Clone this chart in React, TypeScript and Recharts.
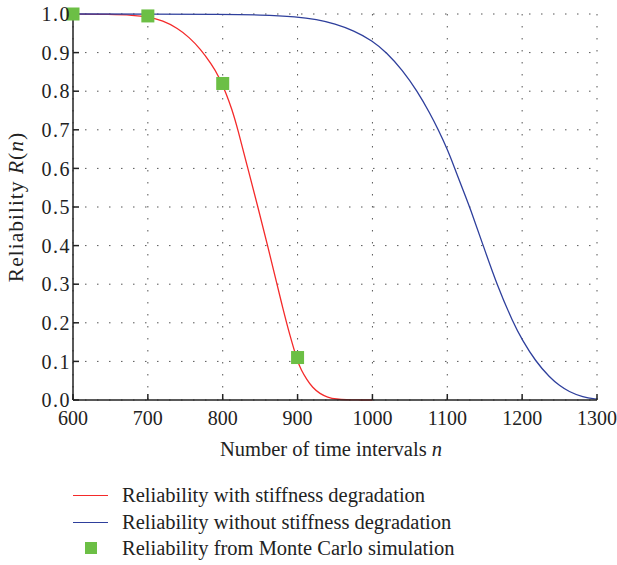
import React from 'react';
import { ComposedChart, Line, Scatter, XAxis, YAxis, CartesianGrid } from 'recharts';

// Reliability curves
const withDegradation = [
  { n: 600, r: 1.0 },
  { n: 650, r: 0.999 },
  { n: 680, r: 0.997 },
  { n: 700, r: 0.993 },
  { n: 720, r: 0.983 },
  { n: 740, r: 0.963 },
  { n: 755, r: 0.94 },
  { n: 770, r: 0.91 },
  { n: 785, r: 0.87 },
  { n: 795, r: 0.838 },
  { n: 805, r: 0.792 },
  { n: 812, r: 0.755 },
  { n: 820, r: 0.703 },
  { n: 833.5, r: 0.6 },
  { n: 847, r: 0.5 },
  { n: 860, r: 0.4 },
  { n: 872.5, r: 0.3 },
  { n: 880, r: 0.24 },
  { n: 890, r: 0.165 },
  { n: 900, r: 0.1 },
  { n: 905, r: 0.077 },
  { n: 912, r: 0.054 },
  { n: 920, r: 0.032 },
  { n: 930, r: 0.016 },
  { n: 940, r: 0.007 },
  { n: 952, r: 0.002 },
  { n: 965, r: 0.0005 },
  { n: 980, r: 0 },
  { n: 1000, r: 0 },
];

const withoutDegradation = [
  { n: 600, r: 1.0 },
  { n: 700, r: 1.0 },
  { n: 800, r: 0.999 },
  { n: 850, r: 0.998 },
  { n: 900, r: 0.993 },
  { n: 925, r: 0.986 },
  { n: 950, r: 0.975 },
  { n: 975, r: 0.957 },
  { n: 1000, r: 0.931 },
  { n: 1019, r: 0.9 },
  { n: 1040, r: 0.855 },
  { n: 1060, r: 0.8 },
  { n: 1077, r: 0.742 },
  { n: 1088, r: 0.7 },
  { n: 1100, r: 0.65 },
  { n: 1110, r: 0.6 },
  { n: 1120, r: 0.549 },
  { n: 1130, r: 0.5 },
  { n: 1148, r: 0.4 },
  { n: 1166, r: 0.3 },
  { n: 1188, r: 0.2 },
  { n: 1200, r: 0.156 },
  { n: 1218, r: 0.1 },
  { n: 1237, r: 0.058 },
  { n: 1250, r: 0.037 },
  { n: 1262, r: 0.022 },
  { n: 1281, r: 0.007 },
  { n: 1300, r: 0.002 },
];

const monteCarlo = [
  { n: 600, r: 1.0 },
  { n: 700, r: 0.995 },
  { n: 800, r: 0.82 },
  { n: 900, r: 0.11 },
];

const xTicks = [600, 700, 800, 900, 1000, 1100, 1200, 1300];
const yTicks = [0, 0.1, 0.2, 0.3, 0.4, 0.5, 0.6, 0.7, 0.8, 0.9, 1.0];

const legendItems = [
  { label: 'Reliability with stiffness degradation', kind: 'line', color: '#f42a2a' },
  { label: 'Reliability without stiffness degradation', kind: 'line', color: '#2e3f9c' },
  { label: 'Reliability from Monte Carlo simulation', kind: 'square', color: '#6cbf45' },
];

const FONT = '"Liberation Serif", "DejaVu Serif", serif';
const AXIS = '#222';
const xTickStyle = { fontSize: 20, fill: '#222', fontFamily: FONT };
const yTickStyle = { fontSize: 20, fill: '#222', fontFamily: FONT, letterSpacing: 1.5 };

function XLabel(props: any) {
  const vb = props.viewBox || {};
  return (
    <text x={vb.x + vb.width / 2 - 4} y={456} textAnchor="middle" fontSize={20.5} fontFamily={FONT} fill="#222">
      Number of time intervals <tspan fontStyle="italic">n</tspan>
    </text>
  );
}

function YLabel(props: any) {
  const vb = props.viewBox || {};
  const cy = vb.y + vb.height / 2;
  return (
    <text
      x={23}
      y={cy}
      transform={`rotate(-90 23 ${cy})`}
      textAnchor="middle"
      fontSize={21.5}
      letterSpacing={1}
      fontFamily={FONT}
      fill="#222"
    >
      Reliability <tspan fontStyle="italic">R</tspan>(<tspan fontStyle="italic">n</tspan>)
    </text>
  );
}

function Square(props: any) {
  const { cx, cy, fill } = props;
  if (cx == null || cy == null) return null;
  return <rect x={cx - 6.5} y={cy - 6.5} width={13} height={13} fill={fill} />;
}

export default function App() {
  return (
    <div style={{ position: 'absolute', left: 0, top: 0, width: 617, height: 565, background: '#fff' }}>
      <ComposedChart width={617} height={565} margin={{ top: 14, right: 20, left: 0, bottom: 105 }}>
        <CartesianGrid stroke="#555" strokeDasharray="1.5 10.5" strokeWidth={1} />
        <XAxis
          dataKey="n"
          type="number"
          domain={[600, 1300]}
          ticks={xTicks}
          height={60}
          stroke={AXIS}
          strokeWidth={1.5}
          tickSize={-6}
          tickMargin={17}
          tick={xTickStyle}
          label={<XLabel />}
        />
        <XAxis
          xAxisId="top"
          orientation="top"
          type="number"
          domain={[600, 1300]}
          ticks={xTicks}
          height={0}
          stroke={AXIS}
          strokeWidth={1.5}
          tickSize={-6}
          tick={false}
        />
        <YAxis
          dataKey="r"
          type="number"
          domain={[0, 1]}
          ticks={yTicks}
          width={73}
          stroke={AXIS}
          strokeWidth={1.5}
          tickSize={-6}
          tickMargin={8}
          tick={yTickStyle}
          tickFormatter={(v: number) => v.toFixed(1)}
          label={<YLabel />}
        />
        <YAxis
          yAxisId="right"
          orientation="right"
          type="number"
          domain={[0, 1]}
          ticks={yTicks}
          width={0}
          stroke={AXIS}
          strokeWidth={1.5}
          tickSize={-6}
          tick={false}
        />
        <Line
          data={withDegradation}
          dataKey="r"
          type="basis"
          stroke={legendItems[0].color}
          strokeWidth={1.3}
          dot={false}
          isAnimationActive={false}
        />
        <Line
          data={withoutDegradation}
          dataKey="r"
          type="basis"
          stroke={legendItems[1].color}
          strokeWidth={1.3}
          dot={false}
          isAnimationActive={false}
        />
        <Scatter
          data={monteCarlo}
          dataKey="r"
          fill={legendItems[2].color}
          shape={<Square />}
          isAnimationActive={false}
        />
      </ComposedChart>
      <div style={{ position: 'absolute', left: 0, top: 482, fontFamily: FONT, fontSize: 20.5, color: '#222' }}>
        {legendItems.map((item) => (
          <div key={item.label} style={{ position: 'relative', height: 26.5, lineHeight: '26.5px', paddingLeft: 122, whiteSpace: 'nowrap' }}>
            {item.kind === 'line' ? (
              <span style={{ position: 'absolute', left: 73, top: 13, width: 35, height: 0, borderTop: `1.5px solid ${item.color}` }} />
            ) : (
              <span style={{ position: 'absolute', left: 85, top: 7, width: 12, height: 12, background: item.color }} />
            )}
            {item.label}
          </div>
        ))}
      </div>
    </div>
  );
}
